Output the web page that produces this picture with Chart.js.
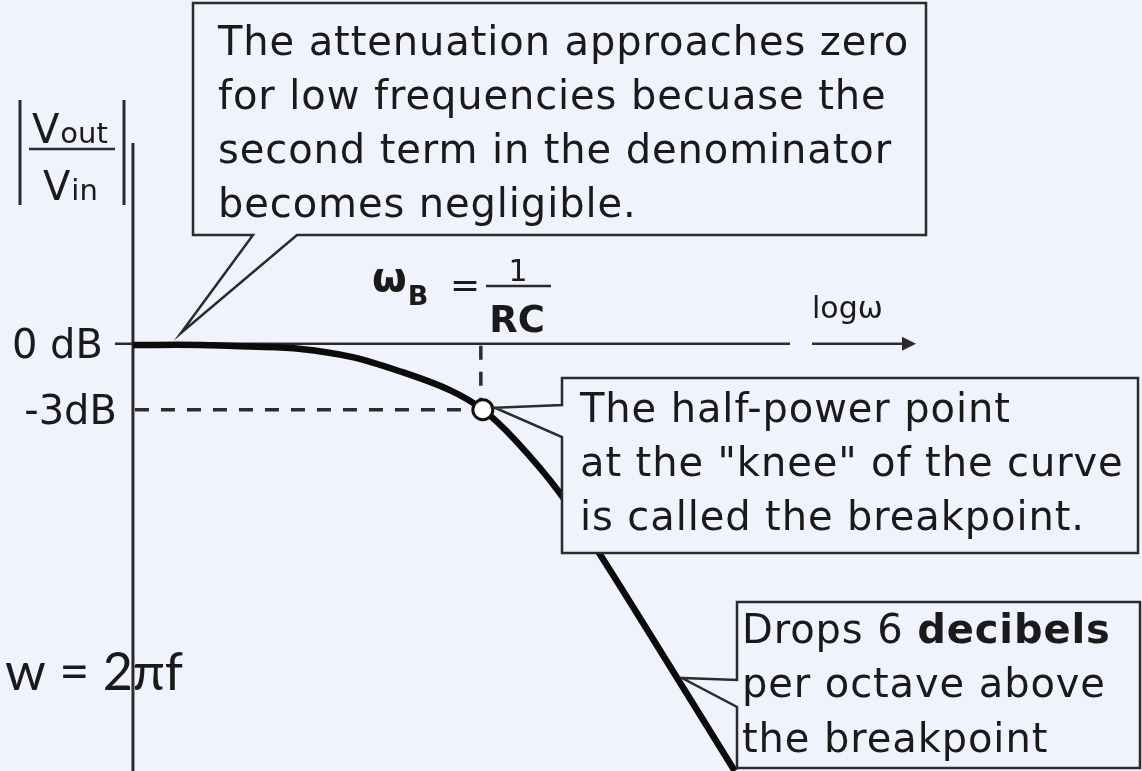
<!DOCTYPE html>
<html>
<head>
<meta charset="utf-8">
<script src="https://cdn.jsdelivr.net/npm/chart.js@4.4.0/dist/chart.umd.min.js"></script>
<style>
  html, body { margin: 0; padding: 0; background: #f0f2fc; }
  #wrap { width: 1142px; height: 771px; }
</style>
</head>
<body>
<div id="wrap"><canvas id="bode" width="1142" height="771"></canvas></div>
<script>
// RC low-pass magnitude: gain (dB) against log frequency, in decades from the breakpoint
const logW   = [-1.25, -1.01, -0.83, -0.65, -0.47, -0.30, -0.12, 0, 0.115, 0.275, 0.42, 0.61, 0.90];
const gainDb = [-0.06, -0.06, -0.13, -0.24, -0.60, -1.24, -2.10, -3.0, -4.37, -6.78, -9.59, -13.45, -19.40];

// half-power point
const kneeLogW = [0];
const kneeDb = [-3];

const yTicks = [0, -3];
const yTickLabels = ['0 dB', '-3dB'];
const axisLogW = -1.25;

const noteLow = ['The attenuation approaches zero', 'for low frequencies becuase the',
  'second term in the denominator', 'becomes negligible.'];
const noteKnee = ['The half-power point', 'at the "knee" of the curve', 'is called the breakpoint.'];
const noteSlope = ['per octave above', 'the breakpoint'];

const INK = '#2b2b2b';
const BG = '#f0f2fc';
const FONT = '"DejaVu Sans", sans-serif';

function seg(ctx, x1, y1, x2, y2, w, dash) {
  ctx.save();
  ctx.beginPath();
  ctx.lineWidth = w;
  ctx.strokeStyle = INK;
  ctx.setLineDash(dash || []);
  ctx.moveTo(x1, y1);
  ctx.lineTo(x2, y2);
  ctx.stroke();
  ctx.restore();
}

// callout: outline polygon that already includes the pointer wedge
function callout(ctx, pts) {
  ctx.save();
  ctx.beginPath();
  pts.forEach((p, i) => i ? ctx.lineTo(p[0], p[1]) : ctx.moveTo(p[0], p[1]));
  ctx.closePath();
  ctx.fillStyle = BG;
  ctx.fill();
  ctx.lineWidth = 2.5;
  ctx.strokeStyle = INK;
  ctx.lineJoin = 'miter';
  ctx.stroke();
  ctx.restore();
}

function text(ctx, s, x, y, font, align, spacing) {
  ctx.save();
  ctx.font = font;
  ctx.textAlign = align || 'left';
  ctx.textBaseline = 'alphabetic';
  ctx.letterSpacing = spacing || '0px';
  ctx.fillStyle = '#1a1a1a';
  ctx.fillText(s, x, y);
  const w = ctx.measureText(s).width;
  ctx.restore();
  return w;
}

const note = (ctx, s, x, y, bold) => text(ctx, s, x, y, (bold ? 'bold ' : '') + '40px ' + FONT, 'left', '0.9px');

const bodePlugin = {
  id: 'bode',
  beforeDatasetsDraw(chart) {
    const { ctx, scales: { x, y }, chartArea } = chart;
    const ax = x.getPixelForValue(axisLogW);
    const y0 = y.getPixelForValue(0);

    // vertical |Vout/Vin| axis and the log w axis
    seg(ctx, ax, 143, ax, chartArea.bottom, 3);
    seg(ctx, ax - 18, y0, 790, y0, 2.5);
    seg(ctx, 812, y0, 904, y0, 2.5);
    ctx.save();
    ctx.beginPath();
    ctx.moveTo(902, y0 - 7);
    ctx.lineTo(916, y0);
    ctx.lineTo(902, y0 + 7);
    ctx.closePath();
    ctx.fillStyle = INK;
    ctx.fill();
    ctx.restore();

    // -3 dB guides to the breakpoint
    const kx = x.getPixelForValue(kneeLogW[0]);
    const ky = y.getPixelForValue(kneeDb[0]);
    seg(ctx, ax + 2, ky, kx - 8, ky, 3.5, [14, 12]);
    seg(ctx, kx - 2, y0 + 2, kx - 2, ky - 8, 3.5, [14, 12]);

    // tick labels
    yTicks.forEach((v, i) => {
      const right = i === 0 ? ax - 30 : ax - 16;
      text(ctx, yTickLabels[i], right, y.getPixelForValue(v) + 14, '40px ' + FONT, 'right');
    });
  },
  afterDraw(chart) {
    const { ctx, scales: { x, y } } = chart;
    const kx = x.getPixelForValue(kneeLogW[0]);
    const ky = y.getPixelForValue(kneeDb[0]);

    // |Vout / Vin|
    seg(ctx, 20, 100, 20, 205, 3);
    seg(ctx, 124, 100, 124, 205, 3);
    seg(ctx, 29, 149, 115, 149, 2.5);
    let w = text(ctx, 'V', 32, 143, '40px ' + FONT);
    text(ctx, 'out', 32 + w + 1, 143, '29px ' + FONT);
    w = text(ctx, 'V', 43, 200, '40px ' + FONT);
    text(ctx, 'in', 43 + w + 1, 200, '29px ' + FONT);

    // wB = 1/RC
    w = text(ctx, 'ω', 372, 291, 'bold 40px ' + FONT);
    text(ctx, 'B', 372 + w + 1, 305, 'bold 27px ' + FONT);
    text(ctx, '=', 450, 297, '36px ' + FONT);
    text(ctx, '1', 518, 281, '30px ' + FONT, 'center');
    seg(ctx, 486, 286, 551, 286, 2.5);
    text(ctx, 'RC', 517, 332, 'bold 37px ' + FONT, 'center');

    text(ctx, 'logω', 812, 318, '30px ' + FONT);

    // callout boxes
    callout(ctx, [[193, 3], [926, 3], [926, 235], [297, 235], [181, 333], [253, 235], [193, 235]]);
    noteLow.forEach((s, i) => note(ctx, s, 218, 55 + i * 54));

    callout(ctx, [[562, 378], [1138, 378], [1138, 553], [562, 553], [562, 437], [kx + 12, ky - 2], [562, 405]]);
    noteKnee.forEach((s, i) => note(ctx, s, 580, 422 + i * 54));

    callout(ctx, [[737, 602], [1140, 602], [1140, 768], [737, 768], [737, 707], [682, 678], [737, 680]]);
    w = note(ctx, 'Drops 6 ', 742, 643);
    note(ctx, 'decibels', 742 + w, 643, true);
    noteSlope.forEach((s, i) => note(ctx, s, 742, 697 + i * 55));

    // w = 2 pi f
    text(ctx, 'w = 2πf', 5, 690, '52px Lato, sans-serif');
  }
};

new Chart(document.getElementById('bode'), {
  type: 'line',
  data: {
    datasets: [
      {
        data: kneeLogW.map((v, i) => ({ x: v, y: kneeDb[i] })),
        showLine: false,
        pointRadius: 10,
        pointBorderWidth: 3,
        pointBackgroundColor: '#ffffff',
        pointBorderColor: '#111111',
        order: 0
      },
      {
        data: logW.map((v, i) => ({ x: v, y: gainDb[i] })),
        borderColor: '#0b0b0b',
        borderWidth: 6.5,
        pointRadius: 0,
        tension: 0.35,
        order: 1
      }
    ]
  },
  options: {
    responsive: false,
    animation: false,
    layout: { padding: 0, autoPadding: false },
    plugins: { legend: { display: false }, tooltip: { enabled: false } },
    scales: {
      x: { type: 'linear', min: -1.725, max: 2.355, display: false },
      y: { type: 'linear', min: -19.4, max: 15.6, display: false }
    }
  },
  plugins: [bodePlugin]
});
</script>
</body>
</html>
